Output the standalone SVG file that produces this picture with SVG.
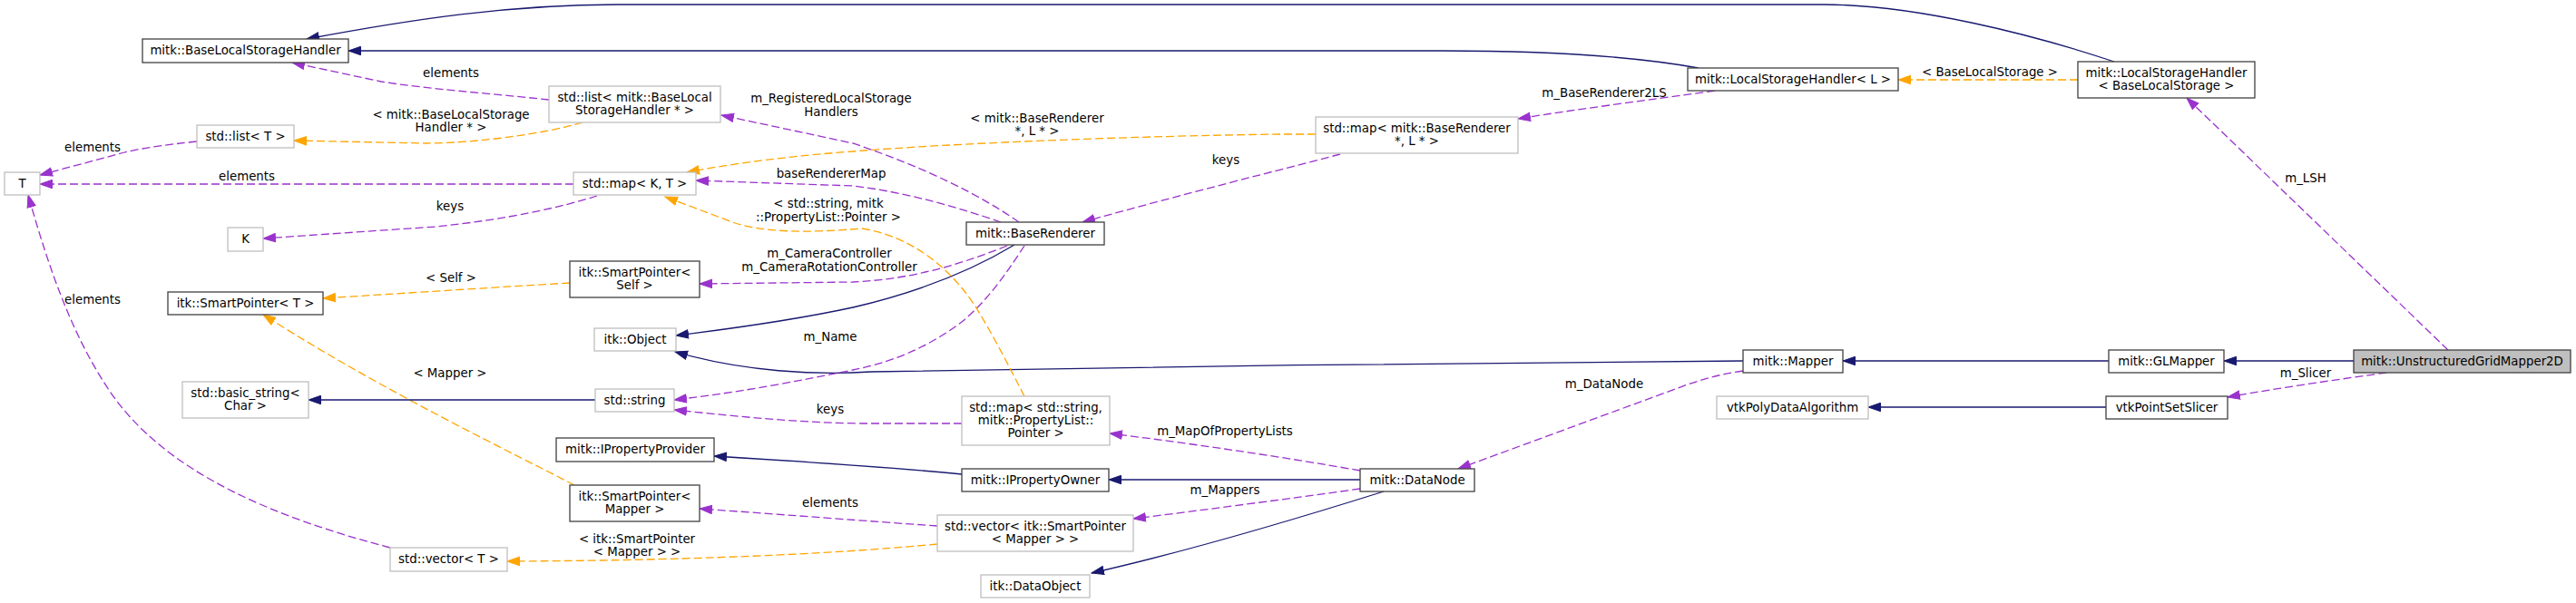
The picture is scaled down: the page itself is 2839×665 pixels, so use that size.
<svg xmlns="http://www.w3.org/2000/svg" width="2839" height="665" viewBox="0 0 2839 665">
<style>
text{font-family:"DejaVu Sans","Liberation Sans",sans-serif;font-size:13.33px;fill:#000;text-anchor:middle}
.nb{fill:#fff;stroke:#404040;stroke-width:1.3}
.ng{fill:#fff;stroke:#bfbfbf;stroke-width:1.3}
.nm{fill:#bfbfbf;stroke:#404040;stroke-width:1.3}
.eb{fill:none;stroke:#191970;stroke-width:1.3;marker-end:url(#ab)}
.ep{fill:none;stroke:#9a32cd;stroke-width:1.3;stroke-dasharray:9,4;marker-end:url(#ap)}
.eo{fill:none;stroke:#ffa500;stroke-width:1.3;stroke-dasharray:9,4;marker-end:url(#ao)}
</style>
<defs>
<marker id="ab" markerWidth="15" markerHeight="11" refX="14" refY="5.5" orient="auto" markerUnits="userSpaceOnUse"><path d="M0.5,0.8 L14,5.5 L0.5,10.2 z" fill="#191970" stroke="#191970"/></marker>
<marker id="ap" markerWidth="15" markerHeight="11" refX="14" refY="5.5" orient="auto" markerUnits="userSpaceOnUse"><path d="M0.5,0.8 L14,5.5 L0.5,10.2 z" fill="#9a32cd" stroke="#9a32cd"/></marker>
<marker id="ao" markerWidth="15" markerHeight="11" refX="14" refY="5.5" orient="auto" markerUnits="userSpaceOnUse"><path d="M0.5,0.8 L14,5.5 L0.5,10.2 z" fill="#ffa500" stroke="#ffa500"/></marker>
</defs>
<rect width="2839" height="665" fill="#fff"/>
<g id="edges">
<path class="eb" d="M2330,68 C2240,38 2110,5 2010,5 L680,5 C560,5 450,22 338,43"/>
<path class="eb" d="M1872,75 C1800,62 1700,56 1590,56 L384,56"/>
<path class="eo" d="M2290,88 L2092,88"/>
<path class="ep" d="M1890,100 C1820,110 1740,120 1673,131"/>
<path class="ep" d="M2698,386 L2410,108"/>
<path class="eb" d="M2594,398 L2451,398"/>
<path class="ep" d="M2630,411 C2580,418 2510,428 2455,438"/>
<path class="eb" d="M2324,398 L2031,398"/>
<path class="eb" d="M2321,449 L2059,449"/>
<path class="ep" d="M1921,409 C1900,412 1880,417 1860,424 L1607,517"/>
<path class="eb" d="M1921,398 C1700,400 1200,404 960,410 C900,414 820,410 744,388"/>
<path class="eb" d="M1118,270 C1060,305 1000,325 940,339 C880,352 810,362 745,370"/>
<path class="ep" d="M1110,271 C1050,295 1000,308 940,311 L771,313"/>
<path class="ep" d="M1129,271 C1110,300 1090,330 1060,355 C1020,385 980,400 940,408 C880,420 820,432 743,441"/>
<path class="ep" d="M1499,519 C1420,505 1320,490 1223,478"/>
<path class="ep" d="M1060,467 L950,467 C880,466 820,460 743,452"/>
<path class="eo" d="M1129,437 C1115,410 1095,370 1075,338 C1050,300 1010,262 950,252 C900,256 850,258 810,246 L733,217"/>
<path class="ep" d="M1103,245 C1060,230 1000,212 940,205 L767,199"/>
<path class="ep" d="M1123,245 C1080,215 1020,185 940,158 L795,127"/>
<path class="ep" d="M605,110 C540,103 470,98 420,90 L322,69"/>
<path class="eo" d="M642,135 C600,148 520,158 470,158 L324,155"/>
<path class="ep" d="M217,156 C180,160 150,164 130,170 L44,193"/>
<path class="ep" d="M632,203 L44,203"/>
<path class="ep" d="M658,216 C620,228 560,242 480,250 L290,263"/>
<path class="eo" d="M1450,148 L1410,148 C1250,150 1050,158 940,167 C870,172 810,180 757,190"/>
<path class="ep" d="M1477,170 C1420,185 1300,215 1193,245"/>
<path class="eo" d="M628,312 C560,316 450,323 356,329"/>
<path class="eo" d="M633,535 C560,497 420,430 290,347"/>
<path class="eb" d="M656,441 L340,441"/>
<path class="eb" d="M1060,523 C1000,517 900,510 787,503"/>
<path class="eb" d="M1499,529 L1222,529"/>
<path class="ep" d="M1499,539 C1420,550 1330,562 1249,572"/>
<path class="eb" d="M1525,542 C1420,575 1300,610 1203,632"/>
<path class="ep" d="M1033,580 C960,575 870,568 771,561"/>
<path class="eo" d="M1033,600 C950,608 800,618 559,619"/>
<path class="ep" d="M430,604 C300,570 180,520 120,430 C80,370 55,300 31,215"/>
<text x="2193" y="84">&lt; BaseLocalStorage &gt;</text>
<text x="1768" y="107">m_BaseRenderer2LS</text>
<text x="2541" y="201">m_LSH</text>
<text x="2541" y="416">m_Slicer</text>
<text x="1768" y="428">m_DataNode</text>
<text x="1350" y="480">m_MapOfPropertyLists</text>
<text x="1350" y="545">m_Mappers</text>
<text x="915" y="376">m_Name</text>
<text x="915" y="456">keys</text>
<text x="915" y="559">elements</text>
<text x="702" y="599">&lt; itk::SmartPointer</text>
<text x="702" y="613">&lt; Mapper &gt; &gt;</text>
<text x="496" y="416">&lt; Mapper &gt;</text>
<text x="497" y="311">&lt; Self &gt;</text>
<text x="914" y="284">m_CameraController</text>
<text x="914" y="299">m_CameraRotationController</text>
<text x="913" y="229">&lt; std::string, mitk</text>
<text x="913" y="244">::PropertyList::Pointer &gt;</text>
<text x="916" y="196">baseRendererMap</text>
<text x="916" y="113">m_RegisteredLocalStorage</text>
<text x="916" y="128">Handlers</text>
<text x="1143" y="135">&lt; mitk::BaseRenderer</text>
<text x="1143" y="149">*, L * &gt;</text>
<text x="1351" y="181">keys</text>
<text x="497" y="85">elements</text>
<text x="497" y="131">&lt; mitk::BaseLocalStorage</text>
<text x="497" y="145">Handler * &gt;</text>
<text x="102" y="167">elements</text>
<text x="272" y="199">elements</text>
<text x="496" y="232">keys</text>
<text x="102" y="335">elements</text>
</g>
<g id="n_BaseLocalStorageHandler"><rect class="nb" x="157" y="43" width="227" height="26"/><text x="270.5" y="59.5">mitk::BaseLocalStorageHandler</text></g>
<g id="n_listT"><rect class="ng" x="217" y="138" width="107" height="25"/><text x="270.5" y="154.5">std::list&lt; T &gt;</text></g>
<g id="n_T"><rect class="ng" x="5" y="190" width="39" height="25"/><text x="24.5" y="206.5">T</text></g>
<g id="n_K"><rect class="ng" x="251" y="251" width="39" height="26"/><text x="270.5" y="267.5">K</text></g>
<g id="n_SmartPointerT"><rect class="nb" x="185" y="322" width="171" height="25"/><text x="270.5" y="338.5">itk::SmartPointer&lt; T &gt;</text></g>
<g id="n_listBLSH"><rect class="ng" x="605" y="95" width="189" height="40"/><text x="699.5" y="111.5">std::list&lt; mitk::BaseLocal</text><text x="699.5" y="125.8">StorageHandler * &gt;</text></g>
<g id="n_mapKT"><rect class="ng" x="632" y="190" width="135" height="25"/><text x="699.5" y="206.5">std::map&lt; K, T &gt;</text></g>
<g id="n_SmartPointerSelf"><rect class="nb" x="628" y="288" width="143" height="40"/><text x="699.5" y="304.5">itk::SmartPointer&lt;</text><text x="699.5" y="318.8">Self &gt;</text></g>
<g id="n_itkObject"><rect class="ng" x="655" y="362" width="90" height="25"/><text x="700" y="378.5">itk::Object</text></g>
<g id="n_stdstring"><rect class="ng" x="656" y="429" width="87" height="25"/><text x="699.5" y="445.5">std::string</text></g>
<g id="n_basicstring"><rect class="ng" x="201" y="421" width="139" height="40"/><text x="270.5" y="437.5">std::basic_string&lt;</text><text x="270.5" y="451.8">Char &gt;</text></g>
<g id="n_IPropertyProvider"><rect class="nb" x="613" y="483" width="174" height="26"/><text x="700" y="499.5">mitk::IPropertyProvider</text></g>
<g id="n_SmartPointerMapper"><rect class="nb" x="628" y="535" width="143" height="40"/><text x="699.5" y="551.5">itk::SmartPointer&lt;</text><text x="699.5" y="565.8">Mapper &gt;</text></g>
<g id="n_vectorT"><rect class="ng" x="430" y="604" width="129" height="26"/><text x="494.5" y="620.5">std::vector&lt; T &gt;</text></g>
<g id="n_BaseRenderer"><rect class="nb" x="1065" y="245" width="152" height="25"/><text x="1141" y="261.5">mitk::BaseRenderer</text></g>
<g id="n_mapPropList"><rect class="ng" x="1060" y="437" width="163" height="54"/><text x="1141.5" y="453.5">std::map&lt; std::string,</text><text x="1141.5" y="467.8">mitk::PropertyList::</text><text x="1141.5" y="482.1">Pointer &gt;</text></g>
<g id="n_IPropertyOwner"><rect class="nb" x="1060" y="517" width="162" height="25"/><text x="1141" y="533.5">mitk::IPropertyOwner</text></g>
<g id="n_vectorMapper"><rect class="ng" x="1033" y="568" width="216" height="40"/><text x="1141" y="584.5">std::vector&lt; itk::SmartPointer</text><text x="1141" y="598.8">&lt; Mapper &gt; &gt;</text></g>
<g id="n_DataObject"><rect class="ng" x="1081" y="634" width="120" height="25"/><text x="1141" y="650.5">itk::DataObject</text></g>
<g id="n_mapBaseRenderer"><rect class="ng" x="1450" y="129" width="223" height="40"/><text x="1561.5" y="145.5">std::map&lt; mitk::BaseRenderer</text><text x="1561.5" y="159.8">*, L * &gt;</text></g>
<g id="n_LSHL"><rect class="nb" x="1860" y="75" width="232" height="25"/><text x="1976" y="91.5">mitk::LocalStorageHandler&lt; L &gt;</text></g>
<g id="n_DataNode"><rect class="nb" x="1499" y="517" width="126" height="25"/><text x="1562" y="533.5">mitk::DataNode</text></g>
<g id="n_Mapper"><rect class="nb" x="1921" y="386" width="110" height="25"/><text x="1976" y="402.5">mitk::Mapper</text></g>
<g id="n_vtkPolyDataAlgorithm"><rect class="ng" x="1892" y="437" width="167" height="25"/><text x="1975.5" y="453.5">vtkPolyDataAlgorithm</text></g>
<g id="n_LSHBLS"><rect class="nb" x="2290" y="68" width="195" height="40"/><text x="2387.5" y="84.5">mitk::LocalStorageHandler</text><text x="2387.5" y="98.8">&lt; BaseLocalStorage &gt;</text></g>
<g id="n_GLMapper"><rect class="nb" x="2324" y="386" width="127" height="25"/><text x="2387.5" y="402.5">mitk::GLMapper</text></g>
<g id="n_vtkPointSetSlicer"><rect class="nb" x="2321" y="437" width="134" height="25"/><text x="2388" y="453.5">vtkPointSetSlicer</text></g>
<g id="n_UGM2D"><rect class="nm" x="2594" y="386" width="239" height="25"/><text x="2713.5" y="402.5">mitk::UnstructuredGridMapper2D</text></g>
</svg>
